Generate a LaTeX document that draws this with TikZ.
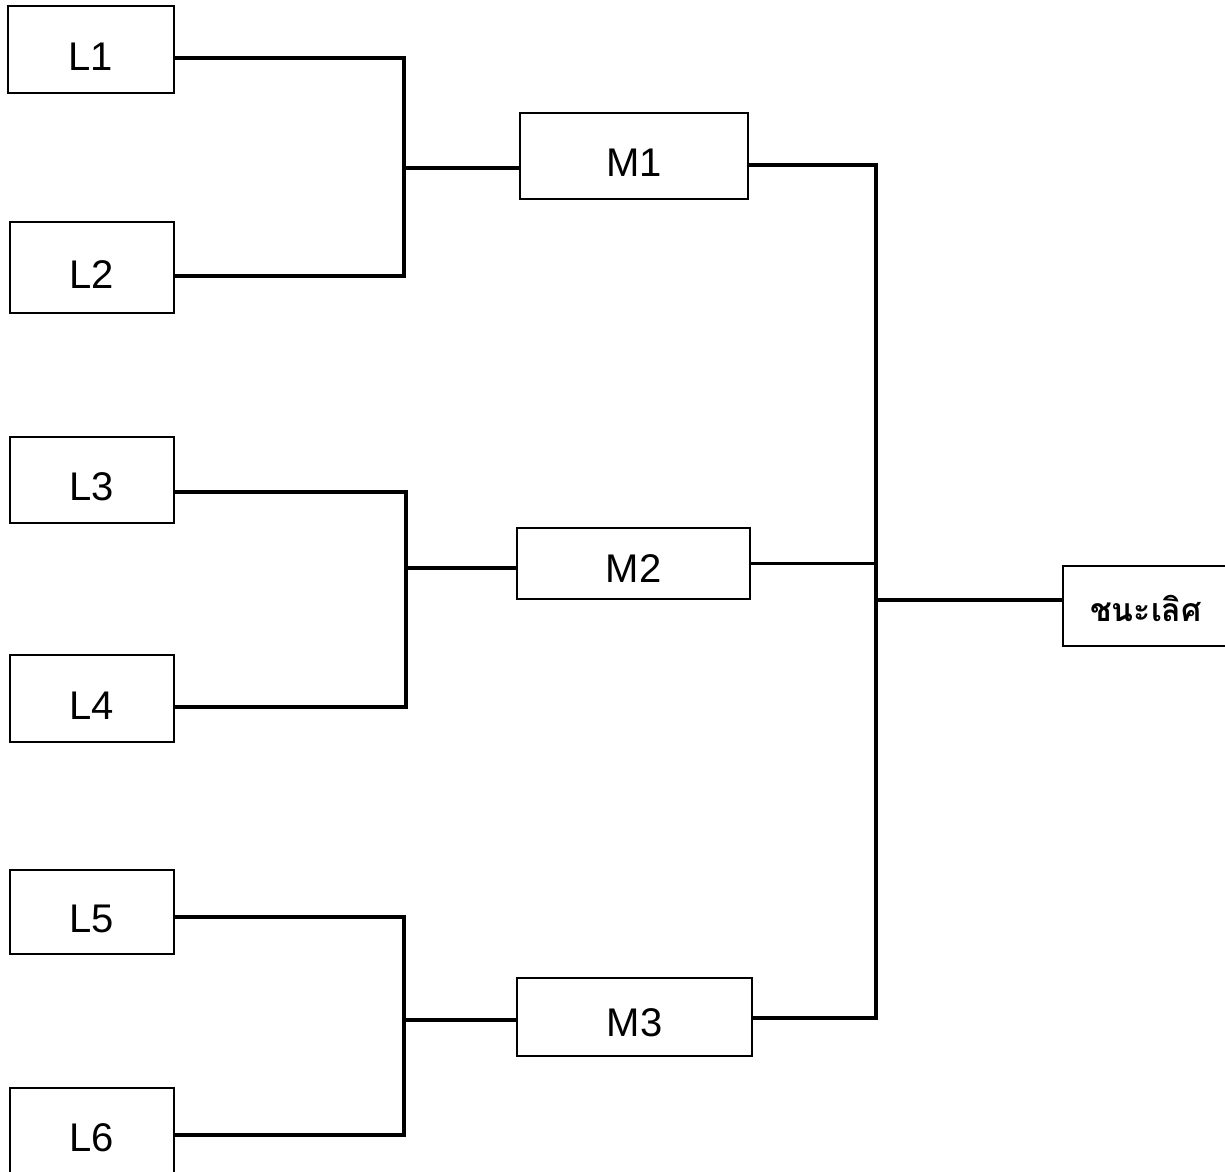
\documentclass[tikz,border=0pt]{standalone}
\usepackage{fontspec}
\setmainfont{Liberation Sans}
\newfontfamily\thaifont[Script=Thai]{Loma}
\begin{document}
\begin{tikzpicture}[x=1pt,y=-1pt,
  lbl/.style={draw,line width=1.3pt,inner sep=0pt,text height=41pt,text depth=0pt,font=\fontsize{40}{44}\selectfont},
  box/.style={lbl,minimum width=164pt},
  wire/.style={line width=3.2pt}]
\useasboundingbox (0,0) rectangle (1225,1171);
\node[box,minimum width=166pt,minimum height=87pt] (L1) at (91,49.5) {L1};
\node[box,minimum height=91pt] (L2) at (92,267.5) {L2};
\node[box,minimum height=86pt] (L3) at (92,480) {L3};
\node[box,minimum height=87pt] (L4) at (92,698.5) {L4};
\node[box,minimum height=84pt] (L5) at (92,912) {L5};
\node[box,minimum height=86pt] (L6) at (92,1131) {L6};
\node[lbl,minimum width=228pt,minimum height=86pt] (M1) at (634,156) {M1};
\node[lbl,minimum width=233pt,minimum height=71pt,text height=38pt] (M2) at (633.5,563.5) {M2};
\node[lbl,minimum width=235pt,minimum height=78pt,text height=38pt] (M3) at (634.5,1017) {M3};
\node[draw,line width=1.3pt,minimum width=166pt,minimum height=80pt,inner sep=0pt,
  text height=30pt,text depth=0pt,
  font=\thaifont\bfseries\fontsize{32}{36}\selectfont] (W) at (1146,606) {ชนะเลิศ};
\coordinate (j1) at (404,168);
\coordinate (j2) at (406,568);
\coordinate (j3) at (404,1020);
\coordinate (jf) at (876,600);
\draw[wire] ([yshift=-8.5pt]L1.east) -| (j1) |- ([yshift=-8.5pt]L2.east);
\draw[wire] (j1) -- ([yshift=-12pt]M1.west);
\draw[wire] ([yshift=-12pt]L3.east) -| (j2) |- ([yshift=-8.5pt]L4.east);
\draw[wire] (j2) -- ([yshift=-4.5pt]M2.west);
\draw[wire] ([yshift=-5pt]L5.east) -| (j3) |- ([yshift=-4pt]L6.east);
\draw[wire] (j3) -- ([yshift=-3pt]M3.west);
\draw[wire] ([yshift=-9pt]M1.east) -| (jf) |- ([yshift=-1pt]M3.east);
\draw[wire] (M2.east) -- (M2.east -| jf);
\draw[wire] (jf) -- ([yshift=6pt]W.west);
\end{tikzpicture}
\end{document}
